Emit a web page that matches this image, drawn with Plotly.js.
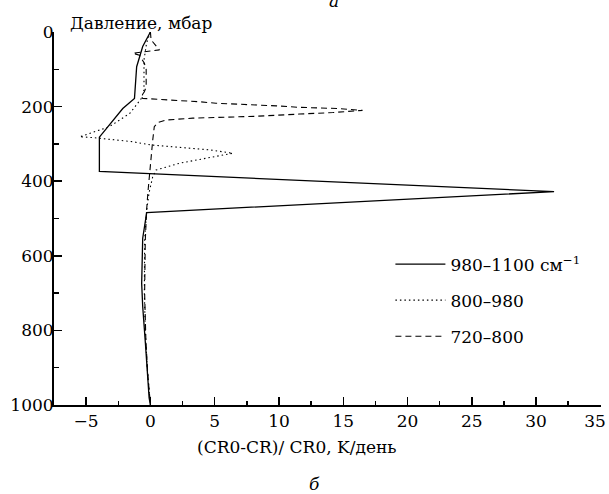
<!DOCTYPE html>
<html>
<head>
<meta charset="utf-8">
<script src="https://cdn.plot.ly/plotly-3.0.1.min.js"></script>
<style>html,body{margin:0;padding:0;background:#fff;}#chart{width:609px;height:494px;}</style>
</head>
<body>
<div id="chart"></div>
<script>
// Series: heating-rate difference (K/day) vs pressure (mbar)
const seriesNames = ['980–1100 см<sup>−1</sup>', '800–980', '720–800'];

const band1X = [0, -0.6, -1.07, -1.24, -2.15, -3.97, -3.97, 31.4, -0.29, -0.6, -0.68, -0.6, -0.39, -0.1, 0];
const band1P = [0, 39, 93, 178, 205, 282, 374, 428, 484, 553, 674, 736, 834, 981, 1000];

const band2X = [0, -0.3, -0.5, -0.5, -0.7, -1.6, -3.2, -5.5, -4.5, -1.4, 0.05, 4.6, 6.4, 5.1, 2.25, 0.44, 0.18, -0.1, -0.3, -0.45, -0.47, -0.4, -0.25, 0];
const band2P = [0, 30, 75, 155, 178, 218, 254, 281, 283, 294, 303, 316, 325, 334, 352, 370, 388, 430, 480, 560, 700, 800, 900, 1000];

const band3X = [0, 0.05, 0.7, -1.37, -0.85, -0.47, -0.33, -0.33, -0.47, -0.72, -0.6, 0.44, 2.0, 3.8, 5.1, 7.9, 9.8, 11.6, 14.5, 16.5, 14.2, 11.6, 8.2, 3.3, 1.2, 0.57, 0.3, 0.18, 0.05, -0.08, -0.2, -0.3, -0.4, -0.45, -0.35, -0.2, 0];
const band3P = [0, 21, 48, 57, 62, 84, 100, 147, 160, 173, 178, 180, 182, 187, 191, 194, 198, 202, 205, 210, 216, 220, 226, 231, 236, 243, 254, 290, 334, 388, 432, 480, 560, 700, 830, 920, 1000];

const xTickVals = [-5, 0, 5, 10, 15, 20, 25, 30, 35];
const xTickText = ['−5', '0', '5', '10', '15', '20', '25', '30', '35\u2007'];
const yTickVals = [0, 200, 400, 600, 800, 1000];
const yTickText = ['0', '200', '400', '600', '800', '1000'];

const FONT = 'DejaVu Serif';
const FS = 17;

const traces = [
  {x: band1X, y: band1P, name: seriesNames[0], mode: 'lines', legendgroup: 'a',
   line: {color: '#000', width: 1.3, dash: 'solid'}},
  {x: band2X, y: band2P, name: seriesNames[1], mode: 'lines', legendgroup: 'b',
   line: {color: '#000', width: 1.1, dash: '1.5px,3px'}},
  {x: band3X, y: band3P, name: seriesNames[2], mode: 'lines', legendgroup: 'c',
   line: {color: '#000', width: 1.1, dash: '6px,4px'}}
];

const layout = {
  width: 609, height: 494,
  margin: {l: 54, r: 8, t: 32, b: 89, pad: 0},
  paper_bgcolor: '#fff', plot_bgcolor: '#fff',
  font: {family: FONT, size: FS, color: '#000'},
  showlegend: true,
  legend: {x: 0.615, xanchor: 'left', y: 0.425, yanchor: 'top', traceorder: 'grouped', tracegroupgap: 11,
           font: {family: FONT, size: FS, color: '#000'}, bgcolor: 'rgba(0,0,0,0)', itemwidth: 50},
  xaxis: {
    range: [-7.5, 35.05], tickmode: 'array', tickvals: xTickVals, ticktext: xTickText,
    ticks: 'inside', ticklen: 8, tickwidth: 1.5, tickcolor: '#000',
    showline: true, linewidth: 2, linecolor: '#000', mirror: false,
    showgrid: false, zeroline: false, ticklabeloverflow: 'allow',
    tickfont: {family: FONT, size: FS, color: '#000'},
    minor: {dtick: 2.5, tick0: 0, ticks: 'inside', ticklen: 4, tickwidth: 1.5, tickcolor: '#000', showgrid: false}
  },
  yaxis: {
    range: [1000, 0], tickmode: 'array', tickvals: yTickVals, ticktext: yTickText,
    ticks: 'inside', ticklen: 8, tickwidth: 1.5, tickcolor: '#000',
    showline: true, linewidth: 2, linecolor: '#000',
    showgrid: false, zeroline: false, ticklabelstandoff: -5, ticklabeloverflow: 'allow',
    tickfont: {family: FONT, size: FS, color: '#000'},
    minor: {dtick: 100, tick0: 0, ticks: 'inside', ticklen: 5, tickwidth: 1.5, tickcolor: '#000', showgrid: false}
  },
  annotations: [
    {text: 'Давление, мбар', xref: 'paper', yref: 'paper', x: 0.0256, y: 1.024, xanchor: 'left', yanchor: 'middle',
     showarrow: false, font: {family: FONT, size: FS, color: '#000'}},
    {text: '(CR0-CR)/ CR0, K/день', xref: 'paper', yref: 'paper', x: (297 - 54) / 547, y: (405 - 447) / 373,
     xanchor: 'center', yanchor: 'middle', showarrow: false, font: {family: FONT, size: FS, color: '#000'}},
    {text: '<i>б</i>', xref: 'paper', yref: 'paper', x: (314 - 54) / 547, y: (405 - 484) / 373,
     xanchor: 'center', yanchor: 'middle', showarrow: false, font: {family: FONT, size: FS, color: '#000'}},
    {text: '<i>а</i>', xref: 'paper', yref: 'paper', x: (334 - 54) / 547, y: (405 - 1) / 373,
     xanchor: 'center', yanchor: 'middle', showarrow: false, font: {family: FONT, size: FS, color: '#000'}}
  ]
};

Plotly.newPlot('chart', traces, layout, {displayModeBar: false, staticPlot: true});
</script>
</body>
</html>
